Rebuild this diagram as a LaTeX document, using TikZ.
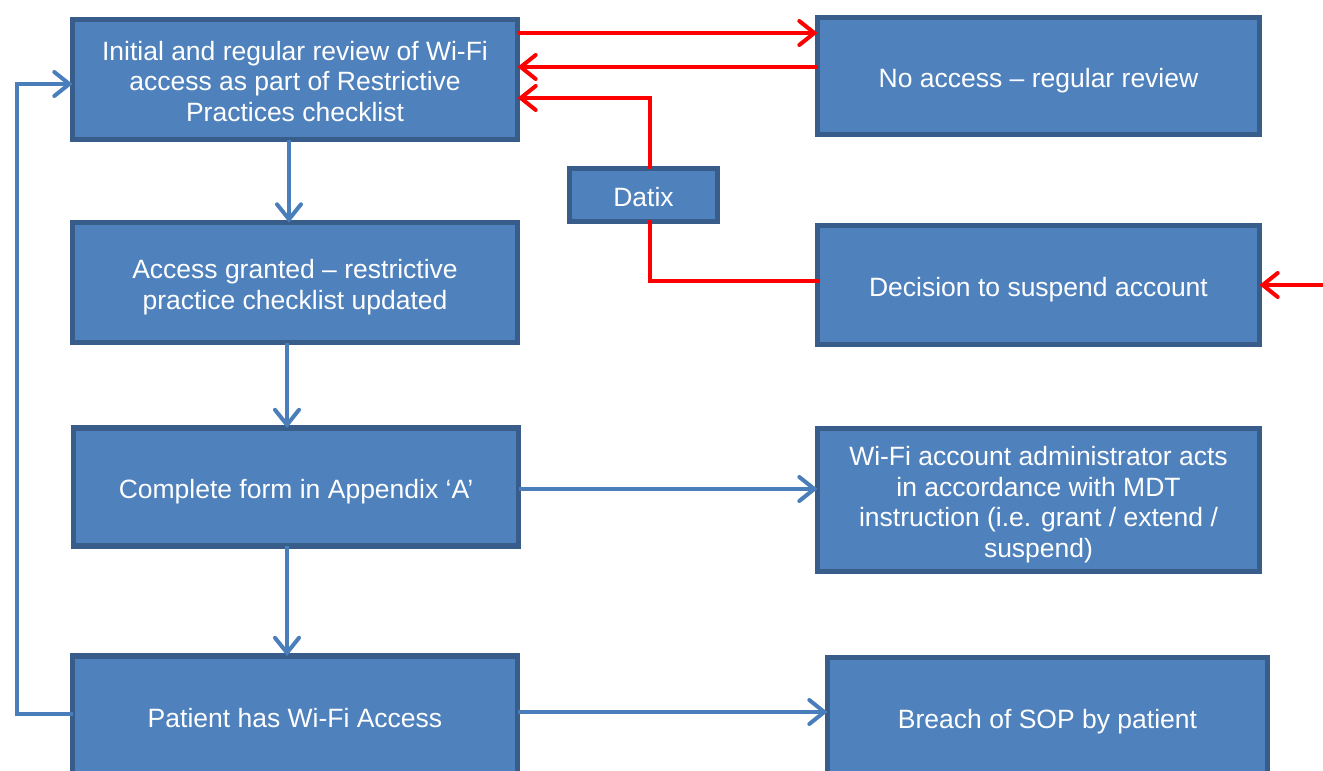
\documentclass[tikz,border=0pt]{standalone}
\usepackage{fontspec}
\setmainfont{Liberation Sans}
\usetikzlibrary{arrows.meta,calc}
\definecolor{boxfill}{HTML}{4F81BD}
\definecolor{boxline}{HTML}{385D8A}
\definecolor{bluearrow}{HTML}{4A7EBB}
\definecolor{redarrow}{HTML}{FF0000}
\newcommand\bs{\rule{0pt}{28.5pt}}
\newcommand\es{\rule[-5.6pt]{0pt}{5.6pt}}
\tikzset{
  box/.style={rectangle, fill=boxfill, draw=boxline, line width=5.5pt, text=white,
    align=center, inner sep=0pt, outer sep=0pt,
    font=\fontsize{26.5}{30.8}\selectfont},
  redline/.style={draw=redarrow, line width=4pt},
  blueline/.style={draw=bluearrow, line width=4pt},
  tip/.style={-{Straight Barb[length=15pt,width=24pt,line cap=round]}},
}
\begin{document}
\begin{tikzpicture}[x=1pt,y=-1pt]
\useasboundingbox (0,0) rectangle (1323,771);
\clip (0,0) rectangle (1323,771);
% nodes
\node[box, minimum width=445pt, minimum height=120pt] (b1) at (295,79.5)
  {\bs Initial and regular review of Wi-Fi\\access as part of Restrictive\\Practices checklist\es};
\node[box, minimum width=445pt, minimum height=120pt] (b2) at (295,282.5)
  {\bs Access granted -- restrictive\\practice checklist updated\es};
\node[box, minimum width=445pt, minimum height=118pt] (b3) at (296,487)
  {\bs Complete form in Appendix `A'\es};
\node[box, minimum width=445pt, minimum height=120pt] (b4) at (295,716)
  {\bs Patient has Wi-Fi Access\es};
\node[box, minimum width=442pt, minimum height=117pt] (r1) at (1038.5,76)
  {\bs No access -- regular review\es};
\node[box, minimum width=442pt, minimum height=119pt] (r2) at (1038.5,285)
  {\bs Decision to suspend account\es};
\node[box, minimum width=442pt, minimum height=143pt] (r3) at (1038.5,500)
  {\bs Wi-Fi account administrator acts\\in accordance with MDT\\instruction (i.e. grant / extend /\\suspend)\es};
\node[box, minimum width=440pt, minimum height=120pt] (r4) at (1047.5,717.5)
  {\bs Breach of SOP by patient\es};
\node[box, minimum width=148pt, minimum height=53pt] (datix) at (643.5,195)
  {\bs Datix\es};
% helper coordinates
\coordinate (a1) at ([yshift=46.5pt]b1.east);
\coordinate (a2) at ([yshift=9pt]r1.west);
\coordinate (a3) at ([yshift=-18.5pt]b1.east);
\coordinate (d0) at ([yshift=4pt]r2.west);
\coordinate (dn) at ([xshift=6.5pt]datix.north);
\coordinate (ds) at ([xshift=6.5pt]datix.south);
\coordinate (e0) at (1330,285);
\coordinate (lp1) at ([yshift=2pt]b4.west);
\coordinate (lp2) at ([yshift=-4.5pt]b1.west);
\coordinate (lx) at (17,0);
\coordinate (s1) at ([xshift=-6pt]b1.south);
\coordinate (s2) at ([xshift=-8pt]b2.south);
\coordinate (s3) at ([xshift=-9pt]b3.south);
\coordinate (c4) at ([yshift=4pt]b4.east);
\coordinate (c3) at ([yshift=-2pt]b3.east);
% red connectors
\draw[redline, tip] (a1) -- (a1 -| r1.west);
\draw[redline, tip] (a2) -- (a2 -| b1.east);
\draw[redline, line cap=rect] (d0) -| (ds);
\draw[redline, tip] (dn) |- (a3);
\draw[redline, tip] (e0) -- (r2.east);
% blue connectors
\draw[blueline, tip] (s1) -- (s1 |- b2.north);
\draw[blueline, tip] (s2) -- (s2 |- b3.north);
\draw[blueline, tip] (s3) -- (s3 |- b4.north);
\draw[blueline, tip] (c3) -- (c3 -| r3.west);
\draw[blueline, tip] (c4) -- (c4 -| r4.west);
\draw[blueline, tip] (lp1) -- (lp1 -| lx) -- (lp2 -| lx) -- (lp2);
\end{tikzpicture}
\end{document}
